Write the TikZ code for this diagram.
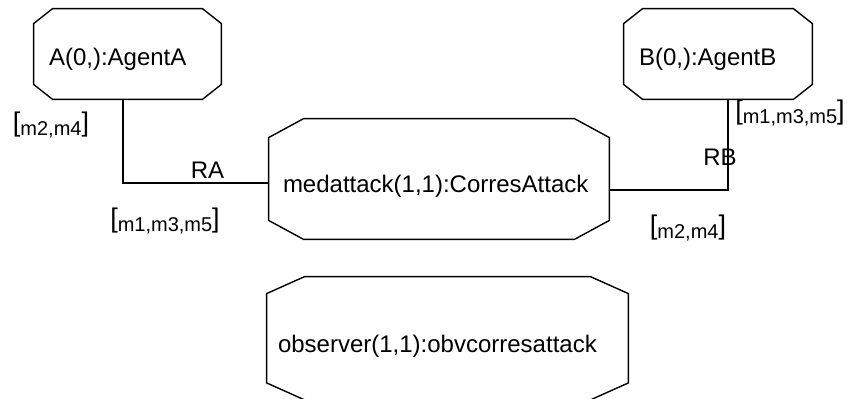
\documentclass[tikz,border=0pt]{standalone}
\usepackage{fontspec}
\setmainfont{Liberation Sans}
\usepackage{tikz}
\usetikzlibrary{positioning, calc}

% octagonal frame round a named node: #2 = horizontal cut, #3 = vertical cut
\newcommand{\octframe}[3]{%
  \draw[frame] ([xshift=#2]#1.north west) -- ([xshift=-#2]#1.north east)
    -- ([yshift=-#3]#1.north east) -- ([yshift=#3]#1.south east)
    -- ([xshift=-#2]#1.south east) -- ([xshift=#2]#1.south west)
    -- ([yshift=#3]#1.south west) -- ([yshift=-#3]#1.north west) -- cycle;}
% message list in tall brackets
\newcommand{\msglist}[1]{{\fontsize{13.5}{15}\selectfont[}\raisebox{-1.8pt}{\fontsize{10}{11}\selectfont #1}{\fontsize{13.5}{15}\selectfont]}}

\begin{document}
\begin{tikzpicture}[
  x=0.5pt, y=-0.5pt,
  roleinst/.style={rectangle, inner sep=0pt, align=left, text height=11.7pt, text depth=0pt, font=\fontsize{12}{14}\selectfont},
  frame/.style={line width=0.7pt, black},
  msgs/.style={inner sep=0pt},
  rolename/.style={inner sep=0pt, font=\fontsize{12}{14}\selectfont},
  link/.style={line width=0.7pt, black}
]
\useasboundingbox (0,0) rectangle (847,398);

% Role instances
\node[roleinst, minimum width=93.5pt, minimum height=45pt, text width=78.5pt] (agA) at (127.5,54) {A(0,):AgentA};
\node[roleinst, minimum width=94pt, minimum height=45pt, text width=79pt] (agB) at (718,54) {B(0,):AgentB};
\node[roleinst, minimum width=170pt, minimum height=60pt, text width=156pt, text height=13.7pt] (med) at (439,179) {medattack(1,1):CorresAttack};
\node[roleinst, minimum width=180.5pt, minimum height=61.25pt, text width=169.5pt, text height=14pt] (obs) at (447.5,338.25) {observer(1,1):obvcorresattack};

\octframe{agA}{9.5pt}{7.5pt}
\octframe{agB}{9.5pt}{7.5pt}
\octframe{med}{17.5pt}{9.5pt}
\octframe{obs}{19pt}{8.5pt}

% Channels
\draw[link] ([xshift=-2.25pt]agA.south) |- ([yshift=-2pt]med.west);
\draw[link] ([xshift=5pt]agB.south) |- ([yshift=-5.5pt]med.east);

\node[rolename] (ra) at (207.5,170) {RA};
\node[rolename] (rb) at (720,157) {RB};

% Message lists
\node[msgs] (sendA) at (51,125) {\msglist{m2,m4}};
\node[msgs] (recvA) at (165,221) {\msglist{m1,m3,m5}};
\node[msgs] (sendB) at (790,113) {\msglist{m1,m3,m5}};
\node[msgs] (recvB) at (688,228) {\msglist{m2,m4}};

\end{tikzpicture}
\end{document}
